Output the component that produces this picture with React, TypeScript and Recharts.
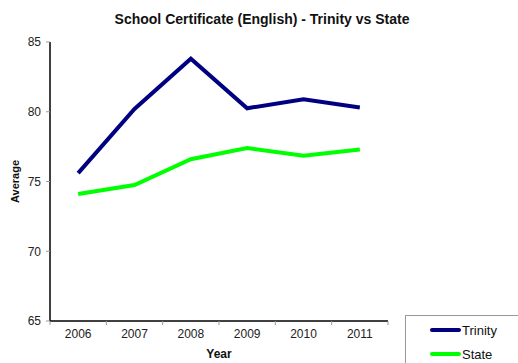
import React from "react";
import { LineChart, Line, XAxis, YAxis, Label } from "recharts";

const years = ["2006", "2007", "2008", "2009", "2010", "2011"];
const trinity = [75.6, 80.2, 83.8, 80.25, 80.9, 80.3];
const state = [74.1, 74.75, 76.6, 77.4, 76.85, 77.3];
const yTicks = [65, 70, 75, 80, 85];
const seriesNames = ["Trinity", "State"];
const seriesColors = ["#000080", "#00ff00"];

const data = years.map((year, i) => ({ year, Trinity: trinity[i], State: state[i] }));

const W = 518;
const H = 363;
const PLOT_LEFT = 50;
const PLOT_RIGHT = 388;
const BAND = (PLOT_RIGHT - PLOT_LEFT) / years.length;
const FONT = "'Liberation Sans', Arial, sans-serif";

// Excel puts the x tick marks between categories, not under them
function YearTick(props: any) {
  const { x, y, payload, index } = props;
  const left = x - BAND / 2;
  return (
    <g>
      <line x1={left} y1={y - 8} x2={left} y2={y - 4} stroke="#999" />
      {index === years.length - 1 && (
        <line x1={x + BAND / 2} y1={y - 8} x2={x + BAND / 2} y2={y - 4} stroke="#999" />
      )}
      <text x={x} y={y + 9} textAnchor="middle" fontSize={12} fill="#222" fontFamily={FONT}>
        {payload.value}
      </text>
    </g>
  );
}

function LegendBox() {
  return (
    <div
      style={{
        position: "absolute",
        left: 405,
        top: 315,
        border: "1px solid #999",
        background: "#fff",
        width: 130,
        height: 60,
        boxSizing: "border-box",
        paddingTop: 2,
        fontFamily: FONT,
        fontSize: 13,
        color: "#111",
      }}
    >
      {seriesNames.map((name, i) => (
        <div key={name} style={{ display: "flex", alignItems: "center", height: 24 }}>
          <span
            style={{
              display: "inline-block",
              marginLeft: 24,
              width: 31,
              height: 4,
              borderRadius: 2,
              background: seriesColors[i],
            }}
          />
          <span style={{ marginLeft: 1 }}>{name}</span>
        </div>
      ))}
    </div>
  );
}

export default function App() {
  return (
    <div style={{ position: "absolute", left: 0, top: 0, width: W, height: H, background: "#fff", overflow: "hidden" }}>
      <div
        style={{
          position: "absolute",
          left: 0,
          top: 11,
          width: 524,
          textAlign: "center",
          fontFamily: FONT,
          fontWeight: "bold",
          fontSize: 14,
          color: "#111",
        }}
      >
        School Certificate (English) - Trinity vs State
      </div>
      <LineChart width={W} height={H} data={data} margin={{ top: 42, right: W - PLOT_RIGHT, bottom: 0, left: 0 }}>
        <XAxis
          dataKey="year"
          height={42}
          padding={{ left: BAND / 2, right: BAND / 2 }}
          axisLine={{ stroke: "#000", strokeWidth: 1.5 }}
          tickLine={false}
          tick={<YearTick />}
          interval={0}
        >
          <Label
            value="Year"
            position="insideBottom"
            offset={5}
            style={{ fontFamily: FONT, fontWeight: "bold", fontSize: 12, fill: "#111" }}
          />
        </XAxis>
        <YAxis
          width={PLOT_LEFT}
          domain={[65, 85]}
          ticks={yTicks}
          interval={0}
          axisLine={{ stroke: "#000", strokeWidth: 1.5 }}
          tickLine={{ stroke: "#999" }}
          tickSize={4}
          tickMargin={5}
          tick={{ fontSize: 12, fill: "#222", fontFamily: FONT }}
        >
          <Label
            value="Average"
            angle={-90}
            position="insideLeft"
            offset={15}
            style={{ fontFamily: FONT, fontWeight: "bold", fontSize: 11, fill: "#111", textAnchor: "middle" }}
          />
        </YAxis>
        <Line
          type="linear"
          dataKey="Trinity"
          stroke={seriesColors[0]}
          strokeWidth={4}
          dot={false}
          isAnimationActive={false}
        />
        <Line
          type="linear"
          dataKey="State"
          stroke={seriesColors[1]}
          strokeWidth={4}
          dot={false}
          isAnimationActive={false}
        />
      </LineChart>
      <LegendBox />
    </div>
  );
}
